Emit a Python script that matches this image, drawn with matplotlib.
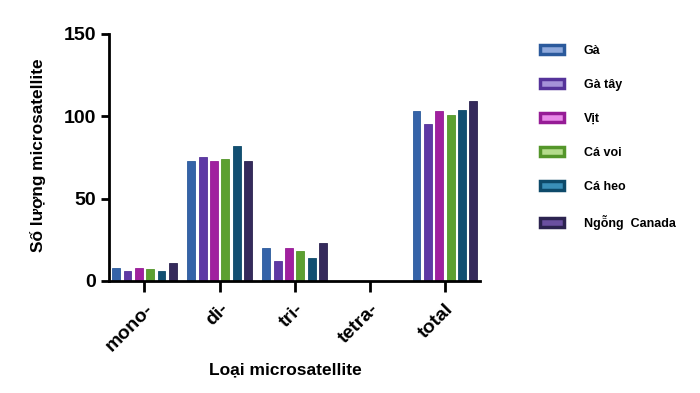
import matplotlib
matplotlib.use('Agg')
import matplotlib.pyplot as plt
from matplotlib.patches import Patch
import numpy as np

plt.rcParams['font.family'] = ['Liberation Sans', 'DejaVu Sans']
plt.rcParams['font.weight'] = 'bold'

categories = ['mono-', 'di-', 'tri-', 'tetra-', 'total']
species = ['Gà', 'Gà tây', 'Vịt', 'Cá voi', 'Cá heo', 'Ngỗng  Canada']
ga = [8, 73, 20, 0, 103]
ga_tay = [6, 75, 12, 0, 95]
vit = [8, 73, 20, 0, 103]
ca_voi = [7, 74, 18, 0, 101]
ca_heo = [6, 82, 14, 0, 104]
ngong = [11, 73, 23, 0, 109]
series = [ga, ga_tay, vit, ca_voi, ca_heo, ngong]

edge_colors = ['#2b5a9c', '#55339a', '#961c96', '#54962a', '#0d4a6a', '#2c2350']
fill_colors = ['#3563a8', '#5e3aa5', '#a0209f', '#5ca031', '#124f72', '#352a5c']
legend_fill = ['#8fa9dc', '#a592d8', '#e88ae8', '#b4dc8c', '#3a8fb8', '#6a4fa0']

fig = plt.figure(figsize=(7, 3.93), dpi=100)
ax = fig.add_axes([0.156, 0.285, 0.53, 0.629])

x = np.arange(len(categories))
pitch = 0.151
width = 0.105
for i, vals in enumerate(series):
    off = (i - 2.5) * pitch
    ax.bar(x + off, vals, width, color=fill_colors[i], edgecolor=edge_colors[i], linewidth=0.6)

ax.set_xlim(-0.47, 4.47)
ax.set_ylim(0, 150)
ax.set_yticks([0, 50, 100, 150])
ax.set_xticks(x)
ax.set_xticklabels(categories, rotation=45, ha='right', rotation_mode='anchor', fontsize=14)
ax.tick_params(axis='y', labelsize=14, width=2, length=6)
ax.tick_params(axis='x', width=2, length=8, pad=6)
for lab in ax.get_yticklabels() + ax.get_xticklabels():
    lab.set_fontweight('bold')
ax.spines['top'].set_visible(False)
ax.spines['right'].set_visible(False)
ax.spines['left'].set_linewidth(2)
ax.spines['bottom'].set_linewidth(2)

ax.set_ylabel('Số lượng microsatellite', fontsize=12.4, fontweight='bold')
ax.yaxis.set_label_coords(-0.171, 0.51)
ax.set_xlabel('Loại microsatellite', fontsize=12.5, fontweight='bold')
ax.xaxis.set_label_coords(0.476, -0.33)

handles = [Patch(facecolor=legend_fill[i], edgecolor=edge_colors[i], linewidth=2.5)
           for i in range(len(species))]
leg = fig.legend(handles, species, loc='upper left', bbox_to_anchor=(0.755, 0.915),
                 frameon=False, fontsize=9, handlelength=1.9, handleheight=0.8,
                 labelspacing=1.75, handletextpad=1.6)
for t in leg.get_texts():
    t.set_fontweight('bold')

fig.savefig('out.png', dpi=100)
